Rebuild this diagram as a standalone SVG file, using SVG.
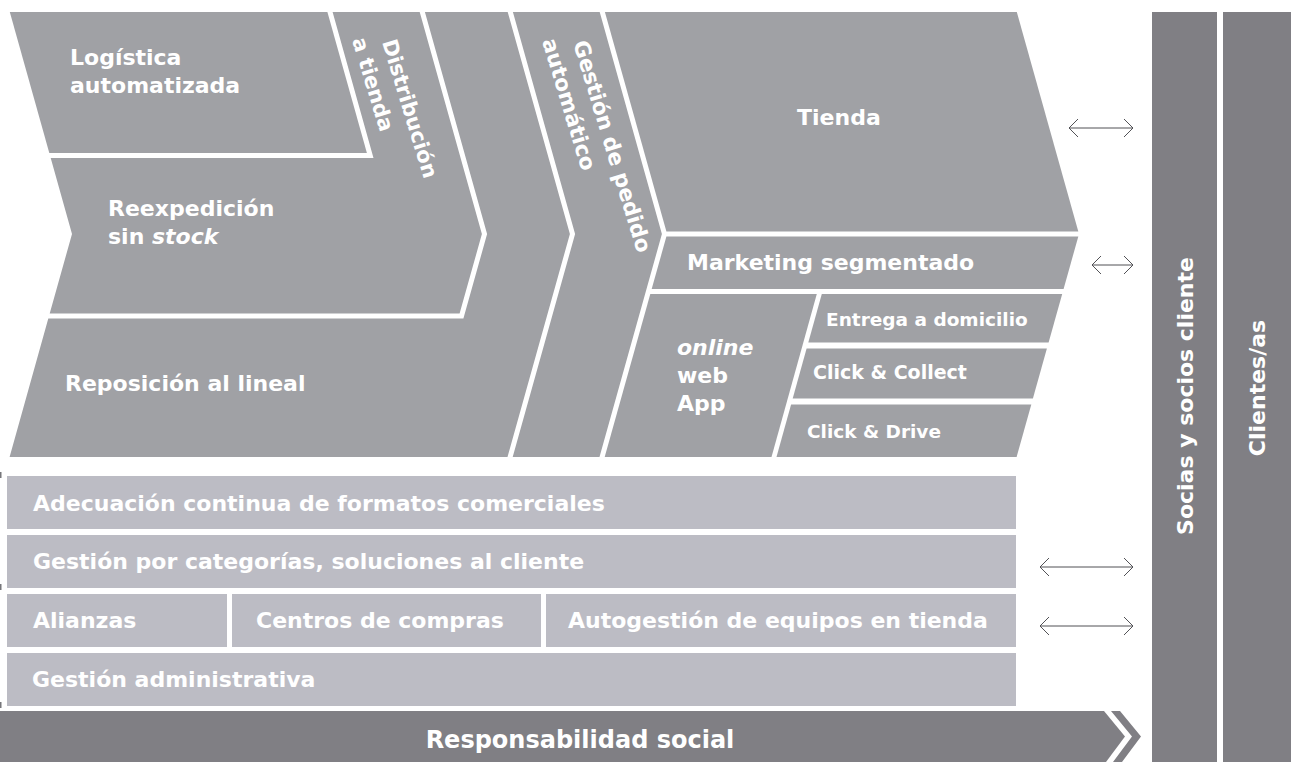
<svg xmlns="http://www.w3.org/2000/svg" width="1291" height="762" viewBox="0 0 1291 762">
<style>
.band{fill:#a0a1a5}
.bar{fill:#bcbcc4}
.dark{fill:#807f84}
.t{font-family:"DejaVu Sans","Liberation Sans",sans-serif;font-weight:bold;font-size:22px;fill:#ffffff}
.r{font-size:21px}
.s{font-size:18.5px}
.i{font-style:italic}
.arr{stroke:#505054;stroke-width:1;fill:none}
.mk{fill:#77777b}
</style>
<defs>
<marker id="ah" viewBox="0 0 10 20" refX="10" refY="10" markerWidth="9" markerHeight="18" markerUnits="userSpaceOnUse" orient="auto-start-reverse">
<path d="M0,0 L10,10 L0,20" fill="none" stroke="#505054" stroke-width="1.1"/>
</marker>
</defs>
<rect width="1291" height="762" fill="#ffffff"/>

<g id="logistica">
<polygon class="band" points="9.8,12 327.4,12 366.9,153 49.3,153"/>
<text class="t" x="70" y="65">Logística</text>
<text class="t" x="70" y="93">automatizada</text>
</g>

<g id="reexpedicion-distribucion">
<polygon class="band" points="332.6,12 419.7,12 481.9,234 459.6,313.5 49.7,313.5 72,234 50.7,158 373.5,158"/>
<text class="t" x="108" y="216">Reexpedición</text>
<text class="t" x="108" y="244">sin <tspan class="i">stock</tspan></text>
<text class="t r" transform="translate(382,42) rotate(73)">Distribución</text>
<text class="t r" transform="translate(352,40) rotate(73)">a tienda</text>
</g>

<g id="reposicion">
<polygon class="band" points="48.3,318.5 463.4,318.5 487.1,234 424.9,12 507.7,12 569.9,234 507.5,457 9.6,457"/>
<text class="t" x="65" y="391">Reposición al lineal</text>
</g>

<g id="gestion-pedido">
<polygon class="band" points="512.9,12 599.7,12 661.9,234 599.5,457 512.7,457 575.1,234"/>
<text class="t" style="font-size:21.5px" transform="translate(573,43) rotate(73)">Gestión de pedido</text>
<text class="t" style="font-size:21.5px" transform="translate(542,41) rotate(73)">automático</text>
</g>

<g id="tienda">
<polygon class="band" points="604.9,12 1016.8,12 1078.3,231.5 666.4,231.5"/>
<text class="t" x="797" y="125">Tienda</text>
</g>

<g id="marketing">
<polygon class="band" points="666.4,236.5 1078.3,236.5 1063.6,289 651.7,289"/>
<text class="t" x="687" y="270">Marketing segmentado</text>
</g>

<g id="online">
<polygon class="band" points="650.3,294 816.8,294 771.5,457 604.7,457"/>
<text class="t i" x="677" y="355">online</text>
<text class="t" x="677" y="383">web</text>
<text class="t" x="677" y="411">App</text>
</g>

<g id="entrega">
<polygon class="band" points="821.8,294 1062.2,294 1048.6,342.5 808.3,342.5"/>
<text class="t s" x="826" y="326">Entrega a domicilio</text>
</g>

<g id="click-collect">
<polygon class="band" points="806.6,348.5 1046.9,348.5 1032.9,398.5 792.7,398.5"/>
<text class="t" style="font-size:19px" x="813" y="379">Click &amp; Collect</text>
</g>

<g id="click-drive">
<polygon class="band" points="791.1,404.5 1031.3,404.5 1016.6,457 776.5,457"/>
<text class="t s" x="807" y="438">Click &amp; Drive</text>
</g>

<g id="adecuacion">
<rect class="bar" x="7" y="476" width="1009" height="53"/>
<text class="t" x="33" y="510.5">Adecuación continua de formatos comerciales</text>
</g>

<g id="gestion-categorias">
<rect class="bar" x="7" y="535" width="1009" height="53"/>
<text class="t" x="33" y="569">Gestión por categorías, soluciones al cliente</text>
</g>

<g id="alianzas">
<rect class="bar" x="7" y="594" width="220" height="53"/>
<text class="t" x="33" y="628">Alianzas</text>
</g>

<g id="centros">
<rect class="bar" x="232" y="594" width="309" height="53"/>
<text class="t" x="256" y="628">Centros de compras</text>
</g>

<g id="autogestion">
<rect class="bar" x="546" y="594" width="470" height="53"/>
<text class="t" x="568" y="628">Autogestión de equipos en tienda</text>
</g>

<g id="gestion-administrativa">
<rect class="bar" x="7" y="653" width="1009" height="53"/>
<text class="t" x="32" y="687">Gestión administrativa</text>
</g>

<g id="responsabilidad">
<polygon class="dark" points="0,711 1104,711 1125,736.5 1106,762 0,762"/>
<polygon class="dark" points="1111,711 1120,711 1141,736.5 1122,762 1113,762 1132,736.5"/>
<text class="t" style="font-size:24px" x="580" y="748" text-anchor="middle">Responsabilidad social</text>
</g>

<g id="socios">
<rect class="dark" x="1152" y="12" width="65" height="750"/>
<text class="t" transform="translate(1184.5,396) rotate(-90)" x="0" y="8" text-anchor="middle">Socias y socios cliente</text>
</g>

<g id="clientes">
<rect class="dark" x="1223" y="12" width="68" height="750"/>
<text class="t" transform="translate(1257,388) rotate(-90)" x="0" y="8" text-anchor="middle">Clientes/as</text>
</g>

<g id="connectors">
<line class="arr" x1="1069" y1="128" x2="1133" y2="128" marker-start="url(#ah)" marker-end="url(#ah)"/>
<line class="arr" x1="1092" y1="265" x2="1133" y2="265" marker-start="url(#ah)" marker-end="url(#ah)"/>
<line class="arr" x1="1040" y1="567" x2="1133" y2="567" marker-start="url(#ah)" marker-end="url(#ah)"/>
<line class="arr" x1="1040" y1="626" x2="1133" y2="626" marker-start="url(#ah)" marker-end="url(#ah)"/>
</g>

<g id="marks">
<rect class="mk" x="0" y="472" width="1.5" height="6"/>
<rect class="mk" x="0" y="584" width="1.5" height="6"/>
<rect class="mk" x="0" y="702" width="1.5" height="6"/>
</g>
</svg>
